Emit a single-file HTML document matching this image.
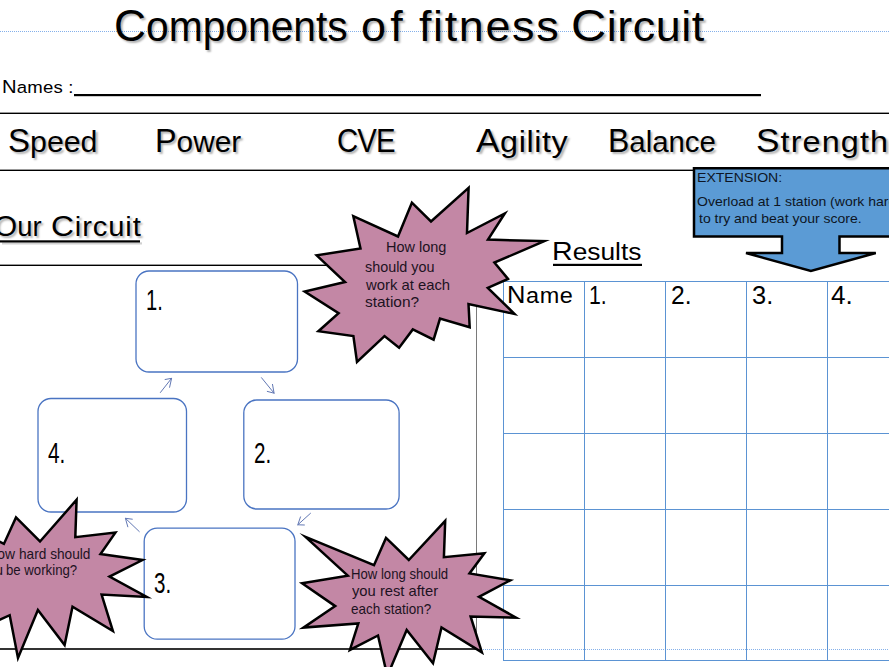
<!DOCTYPE html>
<html><head><meta charset="utf-8">
<style>
html,body{margin:0;padding:0;background:#fff;}
body{width:889px;height:667px;position:relative;overflow:hidden;font-family:"Liberation Sans",sans-serif;color:#000;}
.t{position:absolute;white-space:pre;line-height:1;transform-origin:0 0;}
.sh{text-shadow:2px 2px 2px rgba(0,0,0,0.3);}
.u{font-size:1.087em;}
svg{position:absolute;left:0;top:0;}
</style></head>
<body>
<svg width="889" height="667" viewBox="0 0 889 667">
  <!-- dotted guide lines -->
  <line x1="0" y1="31.5" x2="889" y2="31.5" stroke="#84b0ea" stroke-width="1" stroke-dasharray="1 1"/>
  <line x1="477" y1="649.5" x2="889" y2="649.5" stroke="#84b0ea" stroke-width="1" stroke-dasharray="1 1"/>
  <!-- black rules -->
  <rect x="74" y="94" width="687" height="2.2" fill="#000"/>
  <rect x="0" y="112.6" width="889" height="1.4" fill="#000"/>
  <rect x="0" y="169.6" width="694" height="1.4" fill="#000"/>
  <rect x="0" y="264.6" width="477" height="1.4" fill="#000"/>
  <rect x="0" y="648.2" width="477" height="1.6" fill="#000"/>
  <rect x="476" y="265" width="1" height="384" fill="#7a7a7a"/>
  <!-- underlines -->
  <rect x="2" y="242.3" width="140" height="2.2" fill="#000" opacity="0.18"/>
  <rect x="0" y="240.3" width="140" height="2.2" fill="#000"/>
  <rect x="553" y="263.8" width="89" height="2.2" fill="#000"/>
  <!-- results table -->
  <g stroke="#5b93d3" stroke-width="1" fill="none">
    <line x1="503.5" y1="281" x2="503.5" y2="661"/>
    <line x1="584.5" y1="281" x2="584.5" y2="661"/>
    <line x1="665.5" y1="281" x2="665.5" y2="661"/>
    <line x1="746.5" y1="281" x2="746.5" y2="661"/>
    <line x1="827.5" y1="281" x2="827.5" y2="661"/>
    <line x1="503" y1="281.5" x2="889" y2="281.5"/>
    <line x1="503" y1="357.5" x2="889" y2="357.5"/>
    <line x1="503" y1="433.5" x2="889" y2="433.5"/>
    <line x1="503" y1="509.5" x2="889" y2="509.5"/>
    <line x1="503" y1="585.5" x2="889" y2="585.5"/>
    <line x1="503" y1="660.5" x2="889" y2="660.5"/>
  </g>
  <!-- circuit boxes -->
  <g stroke="#4a74c2" stroke-width="1.3" fill="#fff">
    <rect x="136" y="271" width="161.5" height="101" rx="13" ry="13"/>
    <rect x="38" y="398.5" width="148.5" height="113.5" rx="13" ry="13"/>
    <rect x="243.8" y="400" width="155.3" height="109" rx="13" ry="13"/>
    <rect x="144.2" y="528.2" width="150.8" height="111" rx="13" ry="13"/>
  </g>
  <!-- small arrows -->
  <g stroke="#6278b4" stroke-width="1" fill="none" stroke-linecap="round">
    <path d="M160.4 392.5 L171.6 378.3 M165.1 379.5 L171.6 378.3 L169.6 387.3"/>
    <path d="M261.5 377.7 L274.1 393.2 M272.5 384.4 L274.1 393.2 L267.3 391.4"/>
    <path d="M310.5 513.3 L297.8 524.8 M300.5 516.9 L297.8 524.8 L304.4 525"/>
    <path d="M139.3 531.6 L125.4 518.3 M132.3 519.2 L125.4 518.3 L127.8 526.8"/>
  </g>
  <!-- extension callout -->
  <path d="M694 168.3 L892 168.3 L892 236.5 L839.5 236.5 L839.5 253 L875.8 253 L810.9 271 L746 253 L782 253 L782 236.5 L694 236.5 Z" fill="#5b9bd5" stroke="#000" stroke-width="2.5" stroke-linejoin="miter"/>
  <!-- stars -->
  <g fill="#c387a5" stroke="#000" stroke-width="2.5" stroke-linejoin="miter" stroke-miterlimit="20">
    <polygon points="468.6,187.9 467.0,233.0 504.8,213.5 488.0,239.6 544.3,241.1 494.4,262.6 508.0,278.9 487.8,287.8 514.4,313.9 468.5,304.0 469.7,327.3 440.0,318.6 433.6,339.7 412.8,329.4 399.1,347.8 384.5,336.1 357.0,361.9 353.4,336.1 318.4,331.2 338.6,313.2 304.7,291.5 345.0,282.0 316.7,255.3 360.5,248.5 353.3,216.2 398.0,236.5 411.9,202.7 431.0,221.5"/>
    <polygon points="305.5,536.9 374.0,565.2 386.0,537.9 408.8,560.0 445.2,520.9 443.9,557.2 484.4,553.3 469.5,573.4 510.3,580.3 479.0,596.9 516.0,617.6 470.6,616.5 481.9,652.4 441.5,627.5 433.0,663.2 406.7,630.0 387.3,676.0 378.0,635.5 349.9,649.9 358.3,623.4 303.4,627.6 335.2,606.1 302.1,583.3 347.8,575.7"/>
    <polygon points="-58.4,580.0 -19.7,531.6 3.9,543.9 16.0,517.4 40.0,541.5 76.6,499.8 75.3,537.2 115.4,532.6 100.5,554.1 142.5,560.0 109.5,576.6 146.8,596.9 101.6,594.6 112.9,631.1 72.5,606.8 64.6,645.0 37.9,610.0 18.0,657.9 9.7,615.2 -19.6,628.5"/>
  </g>
</svg>

<!-- texts -->
<div class="t sh" style="left:114.34px;top:3.0px;font-size:41.584px;transform:scaleX(0.9804);"><span class="u">C</span>omponents</div>
<div class="t sh" style="left:361.04px;top:6.0px;font-size:41.584px;transform:scaleX(1.08);letter-spacing:3.852px;">of</div>
<div class="t sh" style="left:419.22px;top:6.0px;font-size:41.584px;transform:scaleX(1.08);letter-spacing:1.522px;">fitness</div>
<div class="t sh" style="left:571.14px;top:3.0px;font-size:41.584px;transform:scaleX(1.08);letter-spacing:0.503px;"><span class="u">C</span>ircuit</div>
<div class="t" style="left:1.84px;top:77.5px;font-size:17.204px;transform:scaleX(1.08);letter-spacing:0.16px;"><span class="u">N</span>ames :</div>
<div class="t sh" style="left:7.98px;top:124.5px;font-size:29.992px;transform:scaleX(1.0118);"><span class="u">S</span>peed</div>
<div class="t sh" style="left:154.62px;top:124.5px;font-size:29.992px;transform:scaleX(0.9928);"><span class="u">P</span>ower</div>
<div class="t sh" style="left:337.2px;top:124.5px;font-size:29.992px;transform:scaleX(0.9);letter-spacing:-1.0px;"><span class="u">C</span><span class="u">V</span><span class="u">E</span></div>
<div class="t sh" style="left:476.0px;top:124.5px;font-size:29.992px;transform:scaleX(1.08);letter-spacing:0.531px;"><span class="u">A</span>gility</div>
<div class="t sh" style="left:607.66px;top:124.5px;font-size:29.992px;transform:scaleX(0.9792);"><span class="u">B</span>alance</div>
<div class="t sh" style="left:755.84px;top:124.5px;font-size:29.992px;transform:scaleX(1.08);letter-spacing:1.034px;"><span class="u">S</span>trength</div>
<div class="t sh" style="left:-6.01px;top:211.4px;font-size:27.048px;transform:scaleX(1.013);"><span class="u">O</span>ur</div>
<div class="t sh" style="left:50.54px;top:211.4px;font-size:27.048px;transform:scaleX(1.08);letter-spacing:0.806px;"><span class="u">C</span>ircuit</div>
<div class="t" style="left:552.44px;top:238.4px;font-size:24.38px;transform:scaleX(1.08);"><span class="u">R</span>esults</div>
<div class="t" style="left:506.54px;top:284.0px;font-size:21.712px;transform:scaleX(1.08);letter-spacing:0.562px;"><span class="u">N</span>ame</div>
<div class="t" style="left:588.79px;top:282.7px;font-size:24.9px;transform:scaleX(0.8529);">1.</div>
<div class="t" style="left:670.81px;top:282.7px;font-size:24.9px;transform:scaleX(0.9889);">2.</div>
<div class="t" style="left:751.58px;top:282.7px;font-size:24.9px;transform:scaleX(1.0222);">3.</div>
<div class="t" style="left:831.45px;top:282.7px;font-size:24.9px;transform:scaleX(1.05);">4.</div>
<div class="t" style="left:146.29px;top:286.0px;font-size:28.6px;transform:scaleX(0.7053);">1.</div>
<div class="t" style="left:48.17px;top:439.1px;font-size:28.6px;transform:scaleX(0.725);">4.</div>
<div class="t" style="left:254.18px;top:439.1px;font-size:28.6px;transform:scaleX(0.72);">2.</div>
<div class="t" style="left:154.48px;top:568.7px;font-size:28.6px;transform:scaleX(0.72);">3.</div>
<div class="t" style="left:385.86px;top:241.3px;font-size:13.9px;transform:scaleX(1.0429);color:#1d1222;">How long</div>
<div class="t" style="left:365.37px;top:260.9px;font-size:13.9px;transform:scaleX(1.0338);color:#1d1222;">should you</div>
<div class="t" style="left:366.4px;top:278.5px;font-size:13.9px;transform:scaleX(1.0679);color:#1d1222;">work at each</div>
<div class="t" style="left:365.29px;top:296.4px;font-size:13.9px;transform:scaleX(1.1128);color:#1d1222;">station?</div>
<div class="t" style="left:351.05px;top:567.6px;font-size:13.9px;transform:scaleX(0.9455);color:#1d1222;">How long should</div>
<div class="t" style="left:351.8px;top:584.7px;font-size:13.9px;transform:scaleX(1.0617);color:#1d1222;">you rest after</div>
<div class="t" style="left:350.83px;top:603.2px;font-size:13.9px;transform:scaleX(0.9704);color:#1d1222;">each station?</div>
<div class="t" style="left:-12.8px;top:547.6px;font-size:13.9px;color:#1d1222;">How</div>
<div class="t" style="left:19.22px;top:547.6px;font-size:13.9px;transform:scaleX(0.9831);color:#1d1222;">hard should</div>
<div class="t" style="left:-19.5px;top:564.4px;font-size:13.9px;color:#1d1222;">you</div>
<div class="t" style="left:6.35px;top:564.4px;font-size:13.9px;transform:scaleX(0.95);color:#1d1222;">be working?</div>
<div class="t" style="left:697.42px;top:170.8px;font-size:13.0px;transform:scaleX(1.0818);color:#0d1524;">EXTENSION:</div>
<div class="t" style="left:697.42px;top:195.0px;font-size:13.0px;transform:scaleX(1.0773);color:#0d1524;">Overload at 1 station (work hard</div>
<div class="t" style="left:698.5px;top:211.8px;font-size:13.0px;transform:scaleX(1.0773);color:#0d1524;">to try and beat your score.</div>
</body></html>
